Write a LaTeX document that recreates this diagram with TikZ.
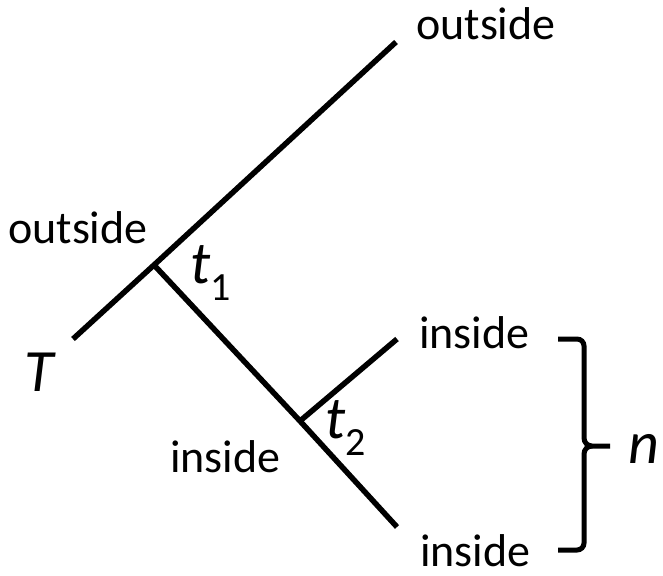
\documentclass[tikz,border=0pt]{standalone}
\usepackage{fontspec}
\setmainfont{Carlito}
\begin{document}
\begin{tikzpicture}[x=1pt,y=-1pt,
  branch/.style={line width=5.5pt},
  bracepath/.style={line width=5pt},
  lbl/.style={inner sep=0pt,anchor=base west,font=\fontsize{46}{50}\selectfont},
  mlbl/.style={inner sep=0pt,anchor=base west,font=\fontsize{60}{64}\selectfont\itshape}]
\useasboundingbox (0,0) rectangle (663,575);
\coordinate (T0) at (73,339);
\coordinate (J1) at (154,265);
\coordinate (O1) at (396,42);
\coordinate (J2) at (300,421);
\coordinate (I1) at (397,339);
\coordinate (I2) at (397,527);
\draw[branch] (T0) -- (J1) -- (O1);
\draw[branch] (J1) -- (J2) -- (I2);
\draw[branch] (J2) -- (I1);
\node[lbl] (outtop) at (416,40) {outside};
\node[lbl] (outleft) at (8,243) {outside};
\node[lbl] (inleft) at (170,472) {inside};
\node[lbl] (inup) at (419,348) {inside};
\node[lbl] (indown) at (420,566) {inside};
\node[mlbl] (Tl) at (24,391) {T};
\node[mlbl] (t1) at (190,283) {t\raisebox{-17pt}{\fontsize{40}{40}\selectfont\upshape 1}};
\node[mlbl] (t2) at (325,438) {t\raisebox{-17pt}{\fontsize{40}{40}\selectfont\upshape 2}};
\node[mlbl] (nl) at (628,463) {n};
\draw[bracepath] (558,339) -- (577,339) to[out=0,in=90] (584,346) -- (584,438)
  to[out=-90,in=180] (592,446) -- (610,446);
\draw[bracepath] (592,446) to[out=180,in=90] (584,454) -- (584,543)
  to[out=-90,in=0] (577,550) -- (558,550);
\end{tikzpicture}
\end{document}
